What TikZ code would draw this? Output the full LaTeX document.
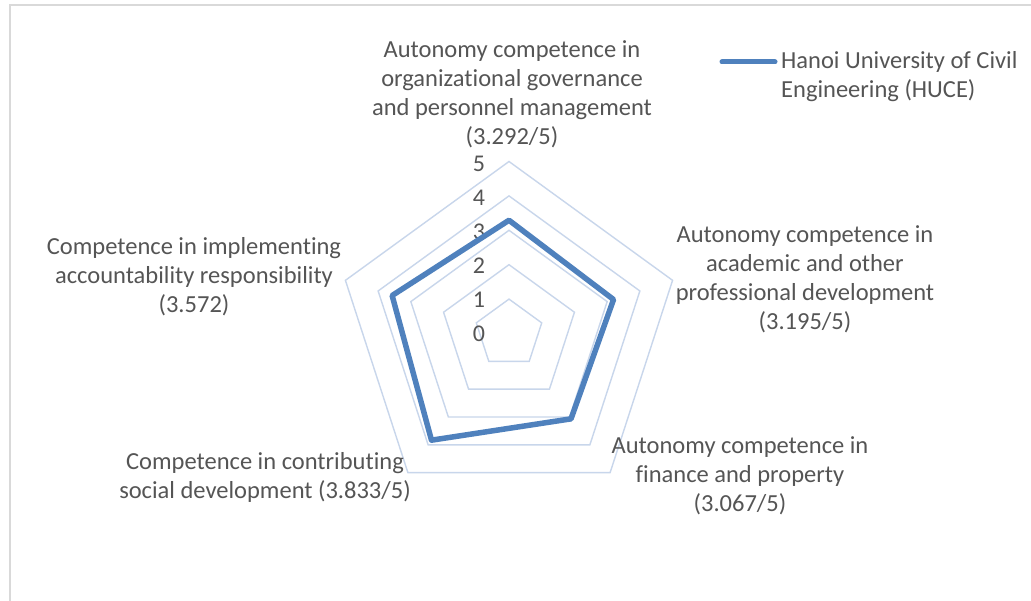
\documentclass[tikz,border=0pt]{standalone}
\usepackage{fontspec}
\setmainfont{Carlito}[Ligatures=NoCommon]
\definecolor{txt}{HTML}{555555}
\definecolor{gridc}{HTML}{C8D6EB}
\definecolor{ser}{HTML}{4F81BD}
\definecolor{framec}{HTML}{D9D9D9}
\begin{document}
\begin{tikzpicture}[x=1pt,y=-1pt,
  lbl/.style={text=txt,align=center,font=\fontsize{24.5}{29}\selectfont,inner sep=0pt},
  num/.style={text=txt,font=\fontsize{24}{28}\selectfont,inner sep=0pt},
  gridline/.style={draw=gridc,line width=1.4pt,line join=miter},
  serline/.style={draw=ser,line width=5.5pt,line join=round}]
\useasboundingbox (0,0) rectangle (1031,601);
\fill[white] (0,0) rectangle (1031,601);
\draw[framec,line width=2pt] (9.5,601) -- (9.5,5) -- (1031,5);
\coordinate (c) at (509,333.5);
% grid pentagons
\foreach \l in {1,...,5}{
  \pgfmathsetmacro{\r}{34.4*\l}
  \draw[gridline,shift={(c)}] (-90:\r) -- (-18:\r) -- (54:\r) -- (126:\r) -- (198:\r) -- cycle;
}
% axis numbers
\foreach \k in {0,...,5}{
  \node[num] (n\k) at (479,{334-34*\k}) {\k};
}
% data series
\begin{scope}[shift={(c)}]
\coordinate (d1) at (-90:113.24);
\coordinate (d2) at (-18:109.91);
\coordinate (d3) at (54:105.50);
\coordinate (d4) at (126:131.86);
\coordinate (d5) at (198:122.88);
\end{scope}
\draw[serline] (d1) -- (d2) -- (d3) -- (d4) -- (d5) -- cycle;
% category labels
\node[lbl] (l1) at (512,94) {Autonomy competence in\\organizational governance\\and personnel management\\(3.292/5)};
\node[lbl] (l2) at (805,279) {Autonomy competence in\\academic and other\\professional development\\(3.195/5)};
\node[lbl] (l3) at (740,476) {Autonomy competence in\\finance and property\\(3.067/5)};
\node[lbl] (l4) at (265,477) {Competence in contributing\\social development (3.833/5)};
\node[lbl] (l5) at (194,277) {Competence in implementing\\accountability responsibility\\(3.572)};
% legend
\coordinate (lg1) at (722,62);
\coordinate (lg2) at (775,62);
\draw[ser,line width=5pt,line cap=round] (lg1) -- (lg2);
\node[lbl,align=left,anchor=west] (lgt) at (781,77) {Hanoi University of Civil\\Engineering (HUCE)};
\end{tikzpicture}
\end{document}
